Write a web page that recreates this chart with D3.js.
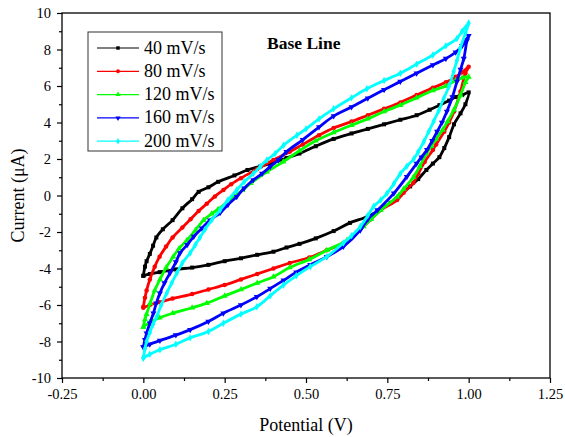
<!DOCTYPE html>
<html><head><meta charset="utf-8">
<script src="https://cdn.jsdelivr.net/npm/d3@7"></script>
<style>body{margin:0;background:#fff;} svg{display:block;}</style>
</head><body>
<svg id="c" width="565" height="437"></svg>
<script>
// ---- data: [potential (V), current (µA)], forward scan then reverse scan
const s40 = [[0,-4.4],[0.005,-3.9],[0.01,-3.6],[0.02,-3.2],[0.03,-2.75],[0.04,-2.3],[0.06,-1.85],[0.09,-1.35],[0.12,-0.7],[0.15,-0.2],[0.17,0.2],[0.2,0.45],[0.23,0.75],[0.28,1.1],[0.32,1.4],[0.36,1.6],[0.4,1.8],[0.44,2.05],[0.48,2.3],[0.53,2.7],[0.585,3.1],[0.64,3.4],[0.69,3.65],[0.74,3.9],[0.79,4.15],[0.84,4.4],[0.88,4.7],[0.91,4.95],[0.94,5.2],[0.96,5.4],[0.98,5.5],[1.0,5.65],
  [0.99,5.0],[0.975,4.5],[0.955,3.9],[0.94,3.2],[0.925,2.6],[0.91,2.1],[0.89,1.75],[0.87,1.4],[0.845,0.9],[0.82,0.5],[0.79,0.05],[0.76,-0.4],[0.72,-0.85],[0.69,-1.15],[0.635,-1.5],[0.585,-1.95],[0.53,-2.35],[0.48,-2.65],[0.44,-2.85],[0.4,-3.08],[0.35,-3.25],[0.3,-3.44],[0.25,-3.6],[0.2,-3.8],[0.15,-3.95],[0.1,-4.05],[0.05,-4.2],[0.02,-4.3],[0,-4.4]];
const s80 = [[0,-6.1],[0.005,-5.6],[0.01,-5.2],[0.02,-4.6],[0.035,-3.9],[0.05,-3.35],[0.07,-2.8],[0.09,-2.3],[0.12,-1.75],[0.145,-1.3],[0.17,-0.85],[0.195,-0.45],[0.22,-0.05],[0.246,0.3],[0.27,0.62],[0.3,0.95],[0.35,1.45],[0.4,1.95],[0.45,2.4],[0.49,2.8],[0.54,3.3],[0.585,3.7],[0.64,4.05],[0.69,4.4],[0.74,4.75],[0.79,5.1],[0.84,5.5],[0.89,5.9],[0.93,6.2],[0.96,6.5],[0.98,6.75],[1.0,7.05],
  [0.99,6.7],[0.975,5.7],[0.955,4.6],[0.94,4.0],[0.925,3.5],[0.9,2.8],[0.89,2.5],[0.865,1.85],[0.845,1.2],[0.83,0.7],[0.8,0.15],[0.78,-0.25],[0.73,-0.8],[0.7,-1.3],[0.667,-1.85],[0.615,-2.6],[0.564,-3.0],[0.51,-3.4],[0.45,-3.7],[0.4,-4.0],[0.35,-4.3],[0.3,-4.6],[0.25,-4.9],[0.2,-5.15],[0.15,-5.4],[0.09,-5.65],[0.05,-5.85],[0.02,-6.0],[0,-6.15]];
const s120 = [[0,-7.2],[0.005,-6.8],[0.01,-6.5],[0.021,-5.9],[0.035,-5.2],[0.051,-4.6],[0.07,-3.95],[0.092,-3.35],[0.11,-2.9],[0.134,-2.45],[0.16,-1.9],[0.185,-1.35],[0.21,-1.0],[0.23,-0.75],[0.255,-0.4],[0.28,-0.05],[0.305,0.3],[0.33,0.67],[0.38,1.3],[0.43,1.85],[0.48,2.45],[0.53,3.0],[0.585,3.45],[0.64,3.85],[0.69,4.2],[0.74,4.6],[0.79,4.95],[0.84,5.35],[0.89,5.75],[0.93,6.0],[0.96,6.3],[0.98,6.45],[1.0,6.5],
  [0.99,6.2],[0.975,5.5],[0.955,4.7],[0.935,4.05],[0.92,3.6],[0.9,3.1],[0.885,2.7],[0.87,2.3],[0.85,1.6],[0.83,1.0],[0.8,0.35],[0.78,-0.07],[0.73,-0.8],[0.7,-1.3],[0.677,-1.7],[0.626,-2.45],[0.564,-3.0],[0.51,-3.5],[0.45,-3.95],[0.4,-4.45],[0.35,-4.8],[0.3,-5.15],[0.25,-5.5],[0.195,-5.9],[0.15,-6.15],[0.09,-6.45],[0.05,-6.7],[0.02,-6.95],[0,-7.2]];
const s160 = [[0,-8.3],[0.005,-7.9],[0.01,-7.55],[0.02,-7.0],[0.031,-6.45],[0.04,-5.9],[0.051,-5.35],[0.065,-4.8],[0.082,-4.25],[0.1,-3.65],[0.113,-3.15],[0.135,-2.7],[0.155,-2.25],[0.18,-1.8],[0.205,-1.35],[0.236,-0.95],[0.26,-0.5],[0.287,-0.07],[0.31,0.4],[0.338,0.85],[0.365,1.2],[0.39,1.58],[0.415,1.95],[0.44,2.4],[0.49,3.05],[0.54,3.75],[0.585,4.35],[0.64,4.85],[0.69,5.33],[0.74,5.8],[0.79,6.25],[0.84,6.7],[0.89,7.15],[0.93,7.5],[0.96,7.85],[0.98,8.2],[1.0,8.75],
  [0.995,8.5],[0.985,7.5],[0.975,6.9],[0.964,6.25],[0.95,5.4],[0.933,4.6],[0.918,4.0],[0.903,3.5],[0.888,3.0],[0.872,2.5],[0.855,2.1],[0.84,1.75],[0.81,1.03],[0.77,0.12],[0.72,-0.8],[0.69,-1.3],[0.667,-1.9],[0.615,-2.8],[0.564,-3.35],[0.513,-3.8],[0.47,-4.2],[0.431,-4.65],[0.39,-5.1],[0.349,-5.55],[0.3,-6.0],[0.246,-6.45],[0.2,-6.9],[0.144,-7.35],[0.1,-7.65],[0.051,-7.95],[0.02,-8.15],[0,-8.3]];
const s200 = [[0,-8.9],[0.005,-8.4],[0.01,-8.0],[0.02,-7.5],[0.03,-7.05],[0.041,-6.65],[0.055,-6.0],[0.072,-5.35],[0.087,-4.8],[0.103,-4.25],[0.12,-3.7],[0.144,-3.15],[0.16,-2.7],[0.174,-2.3],[0.19,-1.85],[0.21,-1.35],[0.236,-0.8],[0.26,-0.25],[0.287,0.3],[0.31,0.75],[0.338,1.2],[0.36,1.6],[0.38,1.95],[0.405,2.3],[0.431,2.75],[0.472,3.3],[0.5,3.65],[0.54,4.2],[0.585,4.75],[0.64,5.35],[0.687,5.85],[0.74,6.3],[0.79,6.7],[0.84,7.2],[0.89,7.7],[0.93,8.2],[0.964,8.6],[0.98,9.0],[1.0,9.45],
  [0.99,8.9],[0.974,8.05],[0.964,7.4],[0.954,6.8],[0.94,6.0],[0.923,5.3],[0.908,4.65],[0.892,4.05],[0.877,3.5],[0.862,2.95],[0.845,2.4],[0.831,2.0],[0.81,1.6],[0.79,1.2],[0.77,0.65],[0.749,0.12],[0.73,-0.25],[0.708,-0.6],[0.69,-1.1],[0.667,-1.7],[0.64,-2.2],[0.615,-2.6],[0.564,-3.35],[0.513,-3.9],[0.47,-4.4],[0.431,-4.9],[0.39,-5.5],[0.349,-6.1],[0.3,-6.5],[0.246,-7.0],[0.2,-7.45],[0.144,-7.8],[0.1,-8.15],[0.051,-8.45],[0.02,-8.7],[0,-8.9]];

const seriesNames = ["40 mV/s","80 mV/s","120 mV/s","160 mV/s","200 mV/s"];
const seriesData = [s40, s80, s120, s160, s200];
const seriesColors = ["#000000","#ff0000","#00ff00","#0000ff","#00ffff"];
const seriesSymbols = [d3.symbolSquare, d3.symbolCircle, d3.symbolTriangle, d3.symbolTriangle, d3.symbolDiamond];
const xTicks = [-0.25,0,0.25,0.5,0.75,1.0,1.25];
const yTicks = [-10,-8,-6,-4,-2,0,2,4,6,8,10];
const xTitle = "Potential (V)";
const yTitle = "Current (μA)";
const noteText = "Base Line";

// ---- layout
const L = 62, R = 550, T = 13, B = 378;
const svg = d3.select("#c");
const font = "'Liberation Serif', 'Times New Roman', serif";
const x = d3.scaleLinear().domain([-0.25,1.25]).range([L,R]);
const y = d3.scaleLinear().domain([-10,10]).range([B,T]);
const hy = f => (v => f(v).replace("\u2212","-"));

// frame
svg.append("rect").attr("x",L).attr("y",T).attr("width",R-L).attr("height",B-T)
  .attr("fill","none").attr("stroke","#000").attr("stroke-width",1.3);

// axes
const xAx = svg.append("g").attr("transform",`translate(0,${B})`)
  .call(d3.axisBottom(x).tickValues(xTicks).tickFormat(hy(d3.format(".2f"))).tickSize(5).tickPadding(6));
const xMinor = svg.append("g").attr("transform",`translate(0,${B})`)
  .call(d3.axisBottom(x).tickValues(d3.range(-0.125,1.25,0.25)).tickFormat("").tickSize(3));
const yAx = svg.append("g").attr("transform",`translate(${L},0)`)
  .call(d3.axisLeft(y).tickValues(yTicks).tickFormat(hy(d3.format("d"))).tickSize(5).tickPadding(6));
const yMinor = svg.append("g").attr("transform",`translate(${L},0)`)
  .call(d3.axisLeft(y).tickValues(d3.range(-9,10,2)).tickFormat("").tickSize(3));
[xAx,xMinor,yAx,yMinor].forEach(g=>{
  g.attr("font-family",font);
  g.select(".domain").remove();
  g.selectAll("line").attr("stroke","#000").attr("stroke-width",1.2);
  g.selectAll("text").attr("font-family",font).attr("font-size",14.5).attr("fill","#000");
});

// axis titles
svg.append("text").attr("x",(L+R)/2).attr("y",431).attr("text-anchor","middle")
  .attr("font-family",font).attr("font-size",18).text(xTitle);
svg.append("text").attr("transform",`translate(24,${(T+B)/2}) rotate(-90)`).attr("text-anchor","middle")
  .attr("font-family",font).attr("font-size",18).text(yTitle);

// curves
const line = d3.line().x(d=>x(d[0])).y(d=>y(d[1])).curve(d3.curveCatmullRom.alpha(0.5));
const plot = svg.append("g");
seriesData.forEach((data,i)=>{
  plot.append("path").datum(data).attr("d",line).attr("fill","none")
    .attr("stroke",seriesColors[i]).attr("stroke-width",2.8).attr("stroke-linejoin","round");
  const sym = d3.symbol().type(seriesSymbols[i]).size(16);
  plot.selectAll(null).data(data).enter().append("path").attr("d",sym)
    .attr("transform",d=>`translate(${x(d[0])},${y(d[1])})${i===3?" rotate(180)":""}`)
    .attr("fill",seriesColors[i]);
});

// legend
svg.append("rect").attr("x",88).attr("y",32).attr("width",134).attr("height",119)
  .attr("fill","#fff").attr("stroke","#333").attr("stroke-width",1);
seriesNames.forEach((n,i)=>{
  const cy = 48 + i*23.3;
  svg.append("line").attr("x1",97).attr("x2",139).attr("y1",cy).attr("y2",cy)
    .attr("stroke",seriesColors[i]).attr("stroke-width",1.2);
  svg.append("path").attr("d",d3.symbol().type(seriesSymbols[i]).size(12))
    .attr("transform",`translate(118,${cy})${i===3?" rotate(180)":""}`).attr("fill",seriesColors[i]);
  svg.append("text").attr("x",144).attr("y",cy+5.5).attr("font-family",font).attr("font-size",18).text(n);
});

// annotation
svg.append("text").attr("x",267).attr("y",49).attr("font-family",font).attr("font-size",17.5)
  .attr("font-weight","bold").text(noteText);
</script>
</body></html>
